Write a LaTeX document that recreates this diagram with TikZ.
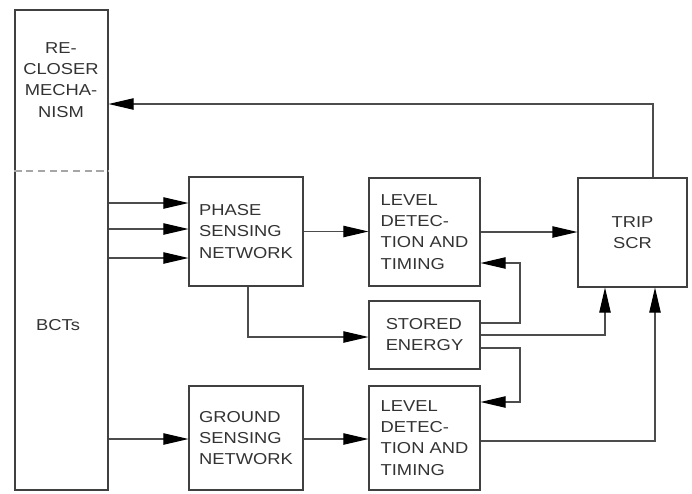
\documentclass[tikz,border=0pt]{standalone}
\usepackage{fontspec}
\setmainfont{Liberation Sans}[FakeStretch=1.16]
\usetikzlibrary{arrows.meta}

\tikzset{
  blk/.style={draw=black!75, line width=0.9pt, text=black!80, align=left, inner sep=0pt},
  wire/.style={draw=black!70, line width=0.9pt},
  arr/.style={wire, -{Triangle[length=0.75cm,width=0.34cm,color=black]}}
}

\begin{document}
\begin{tikzpicture}[x=0.03cm, y=-0.03cm, font=\fontsize{13.5}{18}\selectfont]
  \useasboundingbox (0,0) rectangle (692,493);

  \node[blk, minimum width=2.79cm, minimum height=14.4cm] (cb) at (61.5,250) {};
  \node[text=black!80, align=center] (recloser) at (61,80) {RE-\\CLOSER\\MECHA-\\NISM};
  \node[text=black!80] (bcts) at (58,325) {BCTs};
  \draw[wire, draw=black!35, dash pattern=on 6pt off 4pt] (cb.west |- 0,171) -- (cb.east |- 0,171);

  \node[blk, minimum width=3.42cm, minimum height=3.27cm] (phase) at (246,231.5) {PHASE\\SENSING\\NETWORK};
  \node[blk, minimum width=3.33cm, minimum height=3.24cm] (level1) at (424.5,232) {LEVEL\\DETEC-\\TION AND\\TIMING};
  \node[blk, minimum width=3.33cm, minimum height=2.04cm] (stored) at (424.5,335) {STORED\\ENERGY};
  \node[blk, minimum width=3.42cm, minimum height=3.12cm] (ground) at (246,438) {GROUND\\SENSING\\NETWORK};
  \node[blk, minimum width=3.33cm, minimum height=3.12cm] (level2) at (424.5,438) {LEVEL\\DETEC-\\TION AND\\TIMING};
  \node[blk, align=center, minimum width=3.27cm, minimum height=3.27cm] (trip) at (632.5,232.5) {TRIP\\SCR};

  \foreach \y in {203,229,258}
    \draw[arr] (cb.east |- 0,\y) -- (phase.west |- 0,\y);
  \draw[arr] (phase.east) -- (phase.east -| level1.west);
  \draw[arr] (level1.east) -- (level1.east -| trip.west);
  \draw[arr] (trip.north -| 653,0) |- (cb.east |- 0,104);
  \draw[arr] (phase.south -| 248,0) |- (stored.west |- 0,337);
  \draw[arr] (stored.east |- 0,323) -- (520,323) |- (level1.east |- 0,263);
  \draw[arr] (stored.east) -| (trip.south -| 605,0);
  \draw[arr] (stored.east |- 0,348) -- (520,348) |- (level2.east |- 0,402);
  \draw[arr] (level2.east |- 0,441) -| (trip.south -| 655,0);
  \draw[arr] (cb.east |- 0,439) -- (ground.west |- 0,439);
  \draw[arr] (ground.east |- 0,439) -- (level2.west |- 0,439);
\end{tikzpicture}
\end{document}
